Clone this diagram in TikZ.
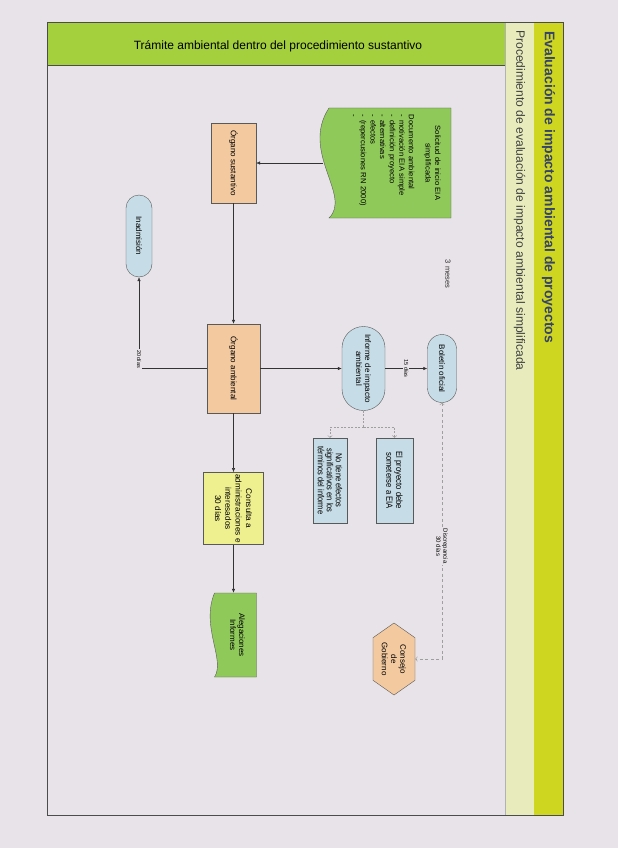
\documentclass[tikz,border=0pt]{standalone}
\usepackage{fontspec}
\setmainfont{Liberation Sans}
\newfontfamily\narrowfont[FakeStretch=0.85]{Liberation Sans}
\usetikzlibrary{arrows.meta,shapes.misc,shapes.symbols}

\definecolor{pagebg}{HTML}{E8E3E8}
\definecolor{hdrgreen}{HTML}{A4D03E}
\definecolor{bandlight}{HTML}{E8ECBC}
\definecolor{bandyel}{HTML}{CFD61F}
\definecolor{docgreen}{HTML}{8FC95A}
\definecolor{orgfill}{HTML}{F3C9A0}
\definecolor{bluefill}{HTML}{C6DCE6}
\definecolor{yelfill}{HTML}{EEEF8E}
\definecolor{titlecol}{HTML}{36436A}

% document shape: X from #1 to #2, wavy side at Y=#3, straight side at Y=#4, wave #5
\newcommand{\docshape}[5]{%
  \filldraw[fill=docgreen, draw=gray!70!black, line width=0.4pt] (#1,#4) -- (#2,#4) -- (#2,#3)
    .. controls ({#2-0.2*(#2-#1)},{#3+0.8*#5}) and ({#1+0.4*(#2-#1)},{#3-#5}) .. (#1,#3) -- cycle;}

\begin{document}
\begin{tikzpicture}[
  x=1pt, y=1pt,
  font=\fontsize{8}{9.2}\selectfont,
  box/.style={draw=gray!70!black, line width=0.4pt, inner sep=2pt, align=center},
  orgbox/.style={box, rectangle, fill=orgfill},
  bluebox/.style={box, rounded rectangle, fill=bluefill},
  flowarrow/.style={draw=gray!40!black, line width=0.45pt, -{Latex[length=4pt,width=3.4pt]}},
  dasharrow/.style={draw=gray!75, line width=0.5pt, dash pattern=on 2pt off 1.5pt, -{Straight Barb[length=2pt,width=4.5pt]}},
  daylabel/.style={fill=pagebg, inner sep=1pt, font=\fontsize{5.5}{6.5}\selectfont}
]

\begin{scope}[rotate=-90, transform shape]
\useasboundingbox (0,0) rectangle (848,618);
\fill[pagebg] (0,0) rectangle (848,618);

% Frame and title bands
\fill[hdrgreen] (22,47) rectangle (65,505);
\fill[bandlight] (22,505) rectangle (815,534);
\fill[bandyel] (22,534) rectangle (815,563);
\draw[gray!60] (22,505) -- (815,505);
\draw[gray!60!black, line width=0.5pt] (65,47) -- (65,505);
\draw[gray!60!black, line width=0.6pt] (22,47) rectangle (815,563);

\node[rotate=90, font=\fontsize{12}{14}\selectfont] (hdr) at (46,278) {Trámite ambiental dentro del procedimiento sustantivo};
\node[anchor=west, inner sep=0pt, text=titlecol, font=\bfseries\fontsize{14}{16}\selectfont] (mainttl) at (31,548.5) {Evaluación de impacto ambiental de proyectos};
\node[anchor=west, inner sep=0pt, text=black!75, font=\fontsize{12.1}{14}\selectfont] (subttl) at (30,519.5) {Procedimiento de evaluación de impacto ambiental simplificada};

% Documents
\docshape{108}{218}{329}{451}{29}
\node[text width=96pt, align=left, inner xsep=0pt, inner ysep=28pt,
  font=\fontsize{7.6}{9.6}\selectfont] (sol) at (163,396)
  {{\centering Solicitud de inicio EIA\\simplificada\par}\vspace{7pt}Documento ambiental\\- motivación EIA simple\\- definición proyecto\\- alternativas\\- efectos\\- (repercusiones RN 2000)\\-};

\docshape{593}{677}{214.5}{256.5}{14}
\node[text width=70pt, align=center, inner xsep=7pt] (aleg) at (635,237.5) {Alegaciones\\Informes};

% Boxes
\node[orgbox, minimum width=80pt, minimum height=45pt] (sust) at (163,233.5) {Órgano sustantivo};
\node[orgbox, minimum width=89pt, minimum height=53pt] (amb) at (368.5,233.5) {Órgano ambiental};
\node[box, fill=yelfill, minimum width=71pt, minimum height=60pt, font=\fontsize{8.2}{10.3}\selectfont] (cons) at (508.5,233.5)
  {Consulta a\\administraciones e\\interesados\\30 días};
\node[bluebox, minimum width=86pt, minimum height=26pt] (inad) at (236,139) {Inadmisión};
\node[bluebox, minimum width=88pt, minimum height=43pt] (inf) at (368.5,363.5) {Informe de impacto\\ambiental};
\node[bluebox, minimum width=72pt, minimum height=29pt] (bol) at (368.5,442) {Boletín oficial};
\node[box, rectangle, fill=bluefill, minimum width=85pt, minimum height=37pt, font=\narrowfont\fontsize{9}{9.6}\selectfont] (proy) at (480.5,394.5)
  {El proyecto debe\\someterse a EIA};
\node[box, rectangle, fill=bluefill, minimum width=85pt, minimum height=34pt, inner sep=1pt, font=\narrowfont\fontsize{8.8}{9}\selectfont] (noef) at (480.5,330)
  {No tiene efectos\\significativos en los\\términos del informe};
\node[box, signal, signal to=east and west, signal pointer angle=110, fill=orgfill,
  minimum width=72pt, minimum height=42pt, inner sep=0pt] (gob) at (659,394) {Consejo\\de\\Gobierno};

\node[text=black!80, font=\fontsize{7.5}{9}\selectfont] (meses) at (274,448) {3 meses};

% Connectors
\draw[flowarrow] (sol.south) -- (sust.north);
\draw[flowarrow] (sust.east) -- (amb.west);
\draw[flowarrow] (amb.south) |- (inad.east) node[daylabel, pos=0.5, anchor=east, xshift=1pt] {20 días};
\draw[flowarrow] (amb.north) -- (inf.south);
\draw[flowarrow] (inf.north) -- (bol.south) node[daylabel, midway] {15 días};
\draw[flowarrow] (amb.east) -- (cons.west);
\draw[flowarrow] (cons.east) -- (cons.east -| aleg.west);

\coordinate (spl) at (427,363.5);
\draw[dasharrow, -] (inf.east) -- (spl);
\draw[dasharrow] (spl) |- (proy.west);
\draw[dasharrow] (spl) |- (noef.west);
\draw[dasharrow, dash pattern=on 3pt off 2.5pt, {Straight Barb[length=2pt,width=4.5pt]}-{Straight Barb[length=2pt,width=4.5pt]}]
  (bol.east) -| (gob.north) node[daylabel, pos=0.28, align=center, font=\fontsize{6}{7}\selectfont] {Discrepancia\\30 días};
\end{scope}

\end{tikzpicture}
\end{document}
